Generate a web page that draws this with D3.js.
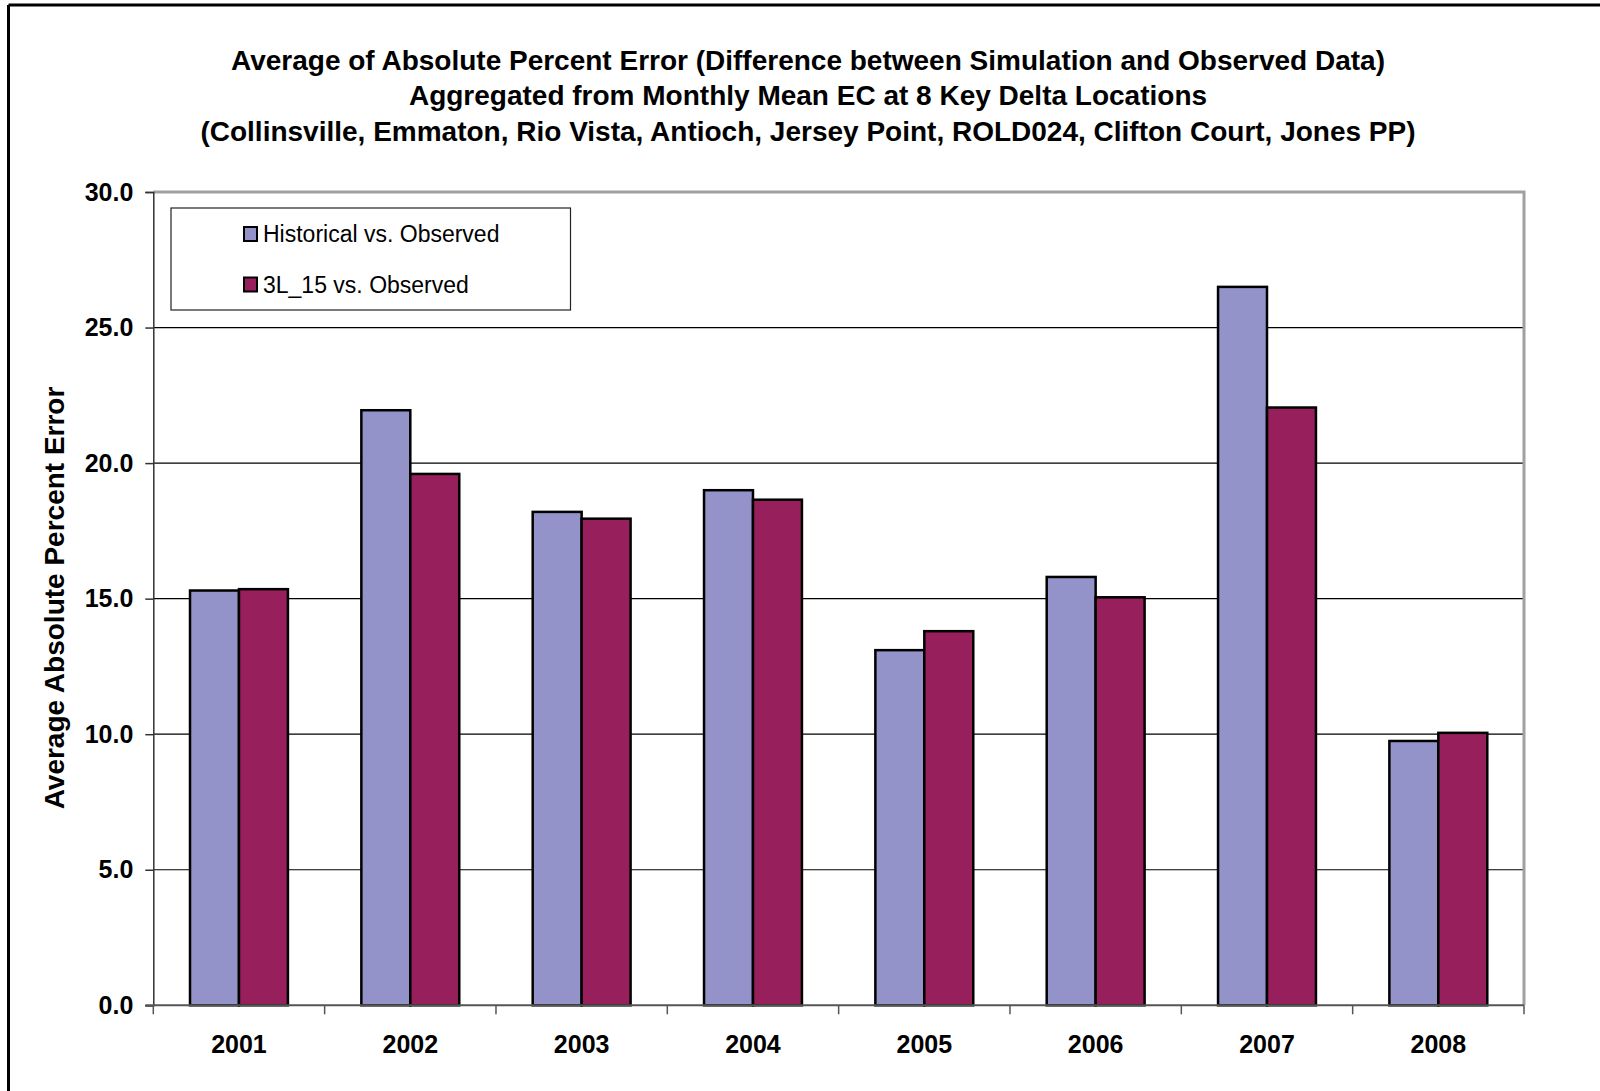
<!DOCTYPE html>
<html>
<head>
<meta charset="utf-8">
<script src="https://cdn.jsdelivr.net/npm/d3@7"></script>
<style>
  html, body { margin: 0; padding: 0; background: #fff; }
  svg { display: block; font-family: "Liberation Sans", Arial, sans-serif; }
</style>
</head>
<body>
<svg id="chart" width="1600" height="1091"></svg>
<script>
const years = ["2001", "2002", "2003", "2004", "2005", "2006", "2007", "2008"];
const seriesNames = ["Historical vs. Observed", "3L_15 vs. Observed"];
const historical = [15.3, 21.95, 18.2, 19.0, 13.1, 15.8, 26.5, 9.75];
const l3_15 = [15.35, 19.6, 17.95, 18.65, 13.8, 15.05, 22.05, 10.05];
const yTicks = [0, 5, 10, 15, 20, 25, 30];
const titleLines = [
  "Average of Absolute Percent Error (Difference between Simulation and Observed Data)",
  "Aggregated from Monthly Mean EC at 8 Key Delta Locations",
  "(Collinsville, Emmaton, Rio Vista, Antioch, Jersey Point, ROLD024, Clifton Court, Jones PP)"
];
const yTitle = "Average Absolute Percent Error";
const colors = ["#9393c9", "#961f5c"];

const svg = d3.select("#chart");

// outer frame (top + left)
svg.append("line").attr("x1", 8.5).attr("x2", 1600).attr("y1", 5).attr("y2", 5)
  .attr("stroke", "#000").attr("stroke-width", 3);
svg.append("line").attr("x1", 8.5).attr("x2", 8.5).attr("y1", 5).attr("y2", 1091)
  .attr("stroke", "#000").attr("stroke-width", 3);

const pLeft = 153.3, pRight = 1524, pTop = 192, pBottom = 1005.3;

const x = d3.scaleBand().domain(years).range([pLeft, pRight]).paddingInner(0).paddingOuter(0);
const x1 = d3.scaleBand().domain([0, 1]).range([0, x.bandwidth()]).paddingInner(0).paddingOuter(0.75);
const y = d3.scaleLinear().domain([0, 30]).range([pBottom, pTop]);

// gridlines
svg.append("g").selectAll("line").data(yTicks.filter(t => t > 0 && t < 30)).join("line")
  .attr("x1", pLeft).attr("x2", pRight)
  .attr("y1", d => y(d)).attr("y2", d => y(d))
  .attr("stroke", "#000").attr("stroke-width", 1.2);

// plot area border top/right (gray)
svg.append("path")
  .attr("d", `M${pLeft},${y(30)}H${pRight}V${pBottom}`)
  .attr("fill", "none").attr("stroke", "#a0a0a0").attr("stroke-width", 3);

// bars
const data = years.map((yr, i) => ({ year: yr, vals: [historical[i], l3_15[i]] }));
const groups = svg.append("g").selectAll("g").data(data).join("g")
  .attr("transform", d => `translate(${x(d.year)},0)`);
groups.selectAll("rect").data(d => d.vals.map((v, s) => ({ v, s }))).join("rect")
  .attr("x", d => x1(d.s))
  .attr("width", x1.bandwidth())
  .attr("y", d => y(d.v))
  .attr("height", d => y(0) - y(d.v))
  .attr("fill", d => colors[d.s])
  .attr("stroke", "#000").attr("stroke-width", 2.5);

// y axis
const yAxis = d3.axisLeft(y).tickValues(yTicks).tickFormat(d3.format(".1f")).tickSizeOuter(0).tickSize(8).tickPadding(12);
const gy = svg.append("g").attr("transform", `translate(${pLeft},0)`).call(yAxis);
gy.select(".domain").attr("stroke", "#333").attr("stroke-width", 1.5);
gy.selectAll(".tick line").attr("stroke", "#333").attr("stroke-width", 1.5);
gy.selectAll(".tick text").attr("font-family", "Liberation Sans, Arial, sans-serif")
  .attr("font-size", 25).attr("font-weight", "bold").attr("fill", "#000");

// x axis
svg.append("line").attr("x1", pLeft - 8).attr("x2", pRight).attr("y1", pBottom).attr("y2", pBottom)
  .attr("stroke", "#555").attr("stroke-width", 2);
const bounds = years.map(yr => x(yr)).concat([pRight]);
svg.append("g").selectAll("line").data(bounds).join("line")
  .attr("x1", d => d).attr("x2", d => d).attr("y1", pBottom).attr("y2", pBottom + 9)
  .attr("stroke", "#555").attr("stroke-width", 1.5);
svg.append("g").selectAll("text").data(years).join("text")
  .attr("x", d => x(d) + x.bandwidth() / 2).attr("y", 1053)
  .attr("text-anchor", "middle").attr("font-size", 25).attr("font-weight", "bold")
  .text(d => d);

// title
const tg = svg.append("g");
const titleY = [70, 105, 140.5];
titleLines.forEach((t, i) => {
  tg.append("text").attr("x", 808).attr("y", titleY[i]).attr("text-anchor", "middle")
    .attr("font-size", 28).attr("font-weight", "bold").text(t);
});

// y title
svg.append("text").attr("transform", `translate(64,598) rotate(-90)`)
  .attr("text-anchor", "middle").attr("font-size", 28).attr("font-weight", "bold")
  .text(yTitle);

// legend
const lg = svg.append("g");
lg.append("rect").attr("x", 171).attr("y", 208).attr("width", 399.5).attr("height", 102)
  .attr("fill", "#fff").attr("stroke", "#222").attr("stroke-width", 1.2);
const legY = [234, 284.5];
seriesNames.forEach((n, i) => {
  lg.append("rect").attr("x", 244).attr("y", legY[i] - 7).attr("width", 13).attr("height", 14)
    .attr("fill", colors[i]).attr("stroke", "#000").attr("stroke-width", 2);
  lg.append("text").attr("x", 263).attr("y", legY[i] + 8.3).attr("font-size", 23).text(n);
});
</script>
</body>
</html>
